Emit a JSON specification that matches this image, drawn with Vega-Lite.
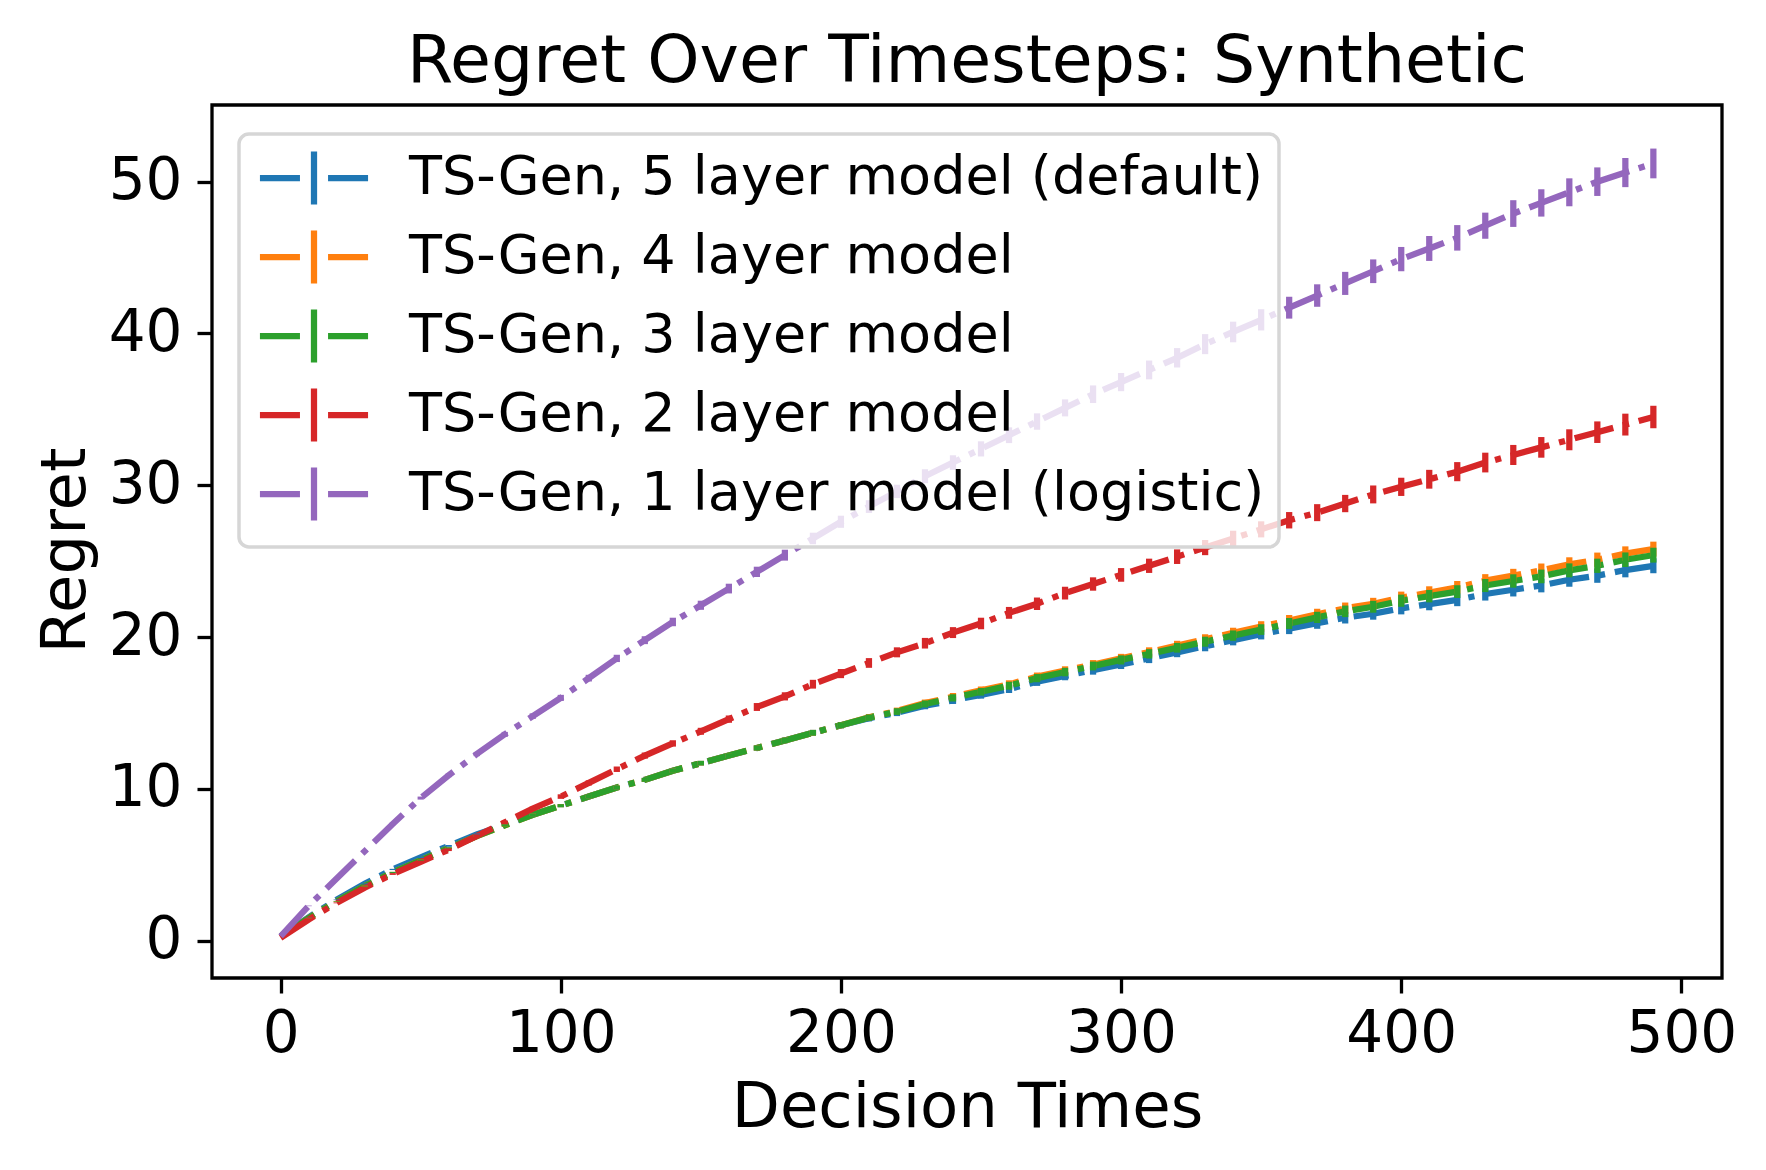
{
"$schema": "https://vega.github.io/schema/vega-lite/v6.json",
"width": 1510, "height": 873,
"autosize": {"type": "none"},
"padding": {"left": 212, "top": 105, "right": 44, "bottom": 192},
"background": "white",
"config": {"font": "DejaVu Sans", "view": {"stroke": "black", "strokeWidth": 3.3}},
"title": {"text": "Regret Over Timesteps: Synthetic", "fontSize": 66.5, "fontWeight": "normal", "color": "black", "anchor": "middle", "frame": "group", "baseline": "alphabetic", "offset": -43},
"data": {"values": [
{"k":"5","t":0,"r":0.3,"e":0},{"k":"5","t":10,"r":1.55,"e":0.01},{"k":"5","t":20,"r":2.7,"e":0.02},{"k":"5","t":30,"r":3.75,"e":0.03},{"k":"5","t":40,"r":4.7,"e":0.04},{"k":"5","t":50,"r":5.5,"e":0.05},{"k":"5","t":60,"r":6.25,"e":0.06},{"k":"5","t":70,"r":7.0,"e":0.07},{"k":"5","t":80,"r":7.65,"e":0.08},{"k":"5","t":90,"r":8.3,"e":0.09},
{"k":"5","t":100,"r":8.9,"e":0.1},{"k":"5","t":110,"r":9.5,"e":0.11},{"k":"5","t":120,"r":10.1,"e":0.12},{"k":"5","t":130,"r":10.6,"e":0.13},{"k":"5","t":140,"r":11.2,"e":0.14},{"k":"5","t":150,"r":11.7,"e":0.15},{"k":"5","t":160,"r":12.2,"e":0.16},{"k":"5","t":170,"r":12.7,"e":0.17},{"k":"5","t":180,"r":13.2,"e":0.18},{"k":"5","t":190,"r":13.7,"e":0.19},
{"k":"5","t":200,"r":14.2,"e":0.2},{"k":"5","t":210,"r":14.66,"e":0.21},{"k":"5","t":220,"r":15.02,"e":0.22},{"k":"5","t":230,"r":15.48,"e":0.23},{"k":"5","t":240,"r":15.84,"e":0.24},{"k":"5","t":250,"r":16.2,"e":0.25},{"k":"5","t":260,"r":16.58,"e":0.26},{"k":"5","t":270,"r":17.06,"e":0.27},{"k":"5","t":280,"r":17.44,"e":0.28},{"k":"5","t":290,"r":17.82,"e":0.29},
{"k":"5","t":300,"r":18.2,"e":0.3},{"k":"5","t":310,"r":18.6,"e":0.31},{"k":"5","t":320,"r":19.0,"e":0.32},{"k":"5","t":330,"r":19.4,"e":0.33},{"k":"5","t":340,"r":19.8,"e":0.34},{"k":"5","t":350,"r":20.2,"e":0.35},{"k":"5","t":360,"r":20.56,"e":0.36},{"k":"5","t":370,"r":20.92,"e":0.37},{"k":"5","t":380,"r":21.28,"e":0.38},{"k":"5","t":390,"r":21.54,"e":0.39},
{"k":"5","t":400,"r":21.9,"e":0.4},{"k":"5","t":410,"r":22.18,"e":0.41},{"k":"5","t":420,"r":22.46,"e":0.42},{"k":"5","t":430,"r":22.84,"e":0.43},{"k":"5","t":440,"r":23.12,"e":0.44},{"k":"5","t":450,"r":23.4,"e":0.45},{"k":"5","t":460,"r":23.78,"e":0.46},{"k":"5","t":470,"r":24.05,"e":0.47},{"k":"5","t":480,"r":24.42,"e":0.48},{"k":"5","t":490,"r":24.7,"e":0.49},
{"k":"4","t":0,"r":0.3,"e":0},{"k":"4","t":10,"r":1.5,"e":0.01},{"k":"4","t":20,"r":2.6,"e":0.02},{"k":"4","t":30,"r":3.6,"e":0.03},{"k":"4","t":40,"r":4.5,"e":0.04},{"k":"4","t":50,"r":5.3,"e":0.05},{"k":"4","t":60,"r":6.1,"e":0.06},{"k":"4","t":70,"r":6.9,"e":0.07},{"k":"4","t":80,"r":7.6,"e":0.08},{"k":"4","t":90,"r":8.3,"e":0.09},
{"k":"4","t":100,"r":8.9,"e":0.1},{"k":"4","t":110,"r":9.5,"e":0.11},{"k":"4","t":120,"r":10.1,"e":0.12},{"k":"4","t":130,"r":10.6,"e":0.13},{"k":"4","t":140,"r":11.2,"e":0.14},{"k":"4","t":150,"r":11.7,"e":0.15},{"k":"4","t":160,"r":12.2,"e":0.16},{"k":"4","t":170,"r":12.7,"e":0.17},{"k":"4","t":180,"r":13.2,"e":0.18},{"k":"4","t":190,"r":13.7,"e":0.19},
{"k":"4","t":200,"r":14.2,"e":0.2},{"k":"4","t":210,"r":14.72,"e":0.21},{"k":"4","t":220,"r":15.14,"e":0.22},{"k":"4","t":230,"r":15.66,"e":0.23},{"k":"4","t":240,"r":16.08,"e":0.24},{"k":"4","t":250,"r":16.5,"e":0.25},{"k":"4","t":260,"r":16.9,"e":0.26},{"k":"4","t":270,"r":17.4,"e":0.27},{"k":"4","t":280,"r":17.8,"e":0.28},{"k":"4","t":290,"r":18.2,"e":0.29},
{"k":"4","t":300,"r":18.6,"e":0.3},{"k":"4","t":310,"r":19.02,"e":0.31},{"k":"4","t":320,"r":19.44,"e":0.32},{"k":"4","t":330,"r":19.86,"e":0.33},{"k":"4","t":340,"r":20.28,"e":0.34},{"k":"4","t":350,"r":20.7,"e":0.35},{"k":"4","t":360,"r":21.1,"e":0.36},{"k":"4","t":370,"r":21.5,"e":0.37},{"k":"4","t":380,"r":21.9,"e":0.38},{"k":"4","t":390,"r":22.2,"e":0.39},
{"k":"4","t":400,"r":22.6,"e":0.4},{"k":"4","t":410,"r":22.94,"e":0.41},{"k":"4","t":420,"r":23.28,"e":0.42},{"k":"4","t":430,"r":23.72,"e":0.43},{"k":"4","t":440,"r":24.06,"e":0.44},{"k":"4","t":450,"r":24.4,"e":0.45},{"k":"4","t":460,"r":24.8,"e":0.46},{"k":"4","t":470,"r":25.1,"e":0.47},{"k":"4","t":480,"r":25.5,"e":0.48},{"k":"4","t":490,"r":25.8,"e":0.49},
{"k":"3","t":0,"r":0.3,"e":0},{"k":"3","t":10,"r":1.5,"e":0.01},{"k":"3","t":20,"r":2.6,"e":0.02},{"k":"3","t":30,"r":3.6,"e":0.03},{"k":"3","t":40,"r":4.5,"e":0.04},{"k":"3","t":50,"r":5.3,"e":0.05},{"k":"3","t":60,"r":6.1,"e":0.06},{"k":"3","t":70,"r":6.9,"e":0.07},{"k":"3","t":80,"r":7.6,"e":0.08},{"k":"3","t":90,"r":8.3,"e":0.09},
{"k":"3","t":100,"r":8.9,"e":0.1},{"k":"3","t":110,"r":9.5,"e":0.11},{"k":"3","t":120,"r":10.1,"e":0.12},{"k":"3","t":130,"r":10.6,"e":0.13},{"k":"3","t":140,"r":11.2,"e":0.14},{"k":"3","t":150,"r":11.7,"e":0.15},{"k":"3","t":160,"r":12.2,"e":0.16},{"k":"3","t":170,"r":12.7,"e":0.17},{"k":"3","t":180,"r":13.2,"e":0.18},{"k":"3","t":190,"r":13.7,"e":0.19},
{"k":"3","t":200,"r":14.2,"e":0.2},{"k":"3","t":210,"r":14.7,"e":0.21},{"k":"3","t":220,"r":15.1,"e":0.22},{"k":"3","t":230,"r":15.6,"e":0.23},{"k":"3","t":240,"r":16.0,"e":0.24},{"k":"3","t":250,"r":16.4,"e":0.25},{"k":"3","t":260,"r":16.8,"e":0.26},{"k":"3","t":270,"r":17.3,"e":0.27},{"k":"3","t":280,"r":17.7,"e":0.28},{"k":"3","t":290,"r":18.1,"e":0.29},
{"k":"3","t":300,"r":18.5,"e":0.3},{"k":"3","t":310,"r":18.9,"e":0.31},{"k":"3","t":320,"r":19.3,"e":0.32},{"k":"3","t":330,"r":19.7,"e":0.33},{"k":"3","t":340,"r":20.1,"e":0.34},{"k":"3","t":350,"r":20.5,"e":0.35},{"k":"3","t":360,"r":20.9,"e":0.36},{"k":"3","t":370,"r":21.3,"e":0.37},{"k":"3","t":380,"r":21.7,"e":0.38},{"k":"3","t":390,"r":22.0,"e":0.39},
{"k":"3","t":400,"r":22.4,"e":0.4},{"k":"3","t":410,"r":22.7,"e":0.41},{"k":"3","t":420,"r":23.0,"e":0.42},{"k":"3","t":430,"r":23.4,"e":0.43},{"k":"3","t":440,"r":23.7,"e":0.44},{"k":"3","t":450,"r":24.0,"e":0.45},{"k":"3","t":460,"r":24.4,"e":0.46},{"k":"3","t":470,"r":24.7,"e":0.47},{"k":"3","t":480,"r":25.1,"e":0.48},{"k":"3","t":490,"r":25.4,"e":0.49},
{"k":"2","t":0,"r":0.2,"e":0},{"k":"2","t":10,"r":1.4,"e":0.02},{"k":"2","t":20,"r":2.5,"e":0.03},{"k":"2","t":30,"r":3.5,"e":0.05},{"k":"2","t":40,"r":4.4,"e":0.06},{"k":"2","t":50,"r":5.2,"e":0.08},{"k":"2","t":60,"r":6.0,"e":0.09},{"k":"2","t":70,"r":6.9,"e":0.11},{"k":"2","t":80,"r":7.8,"e":0.12},{"k":"2","t":90,"r":8.7,"e":0.14},
{"k":"2","t":100,"r":9.5,"e":0.15},{"k":"2","t":110,"r":10.4,"e":0.17},{"k":"2","t":120,"r":11.3,"e":0.18},{"k":"2","t":130,"r":12.2,"e":0.2},{"k":"2","t":140,"r":13.0,"e":0.21},{"k":"2","t":150,"r":13.8,"e":0.23},{"k":"2","t":160,"r":14.6,"e":0.24},{"k":"2","t":170,"r":15.4,"e":0.26},{"k":"2","t":180,"r":16.1,"e":0.27},{"k":"2","t":190,"r":16.9,"e":0.29},
{"k":"2","t":200,"r":17.6,"e":0.3},{"k":"2","t":210,"r":18.3,"e":0.32},{"k":"2","t":220,"r":19.0,"e":0.33},{"k":"2","t":230,"r":19.6,"e":0.35},{"k":"2","t":240,"r":20.3,"e":0.36},{"k":"2","t":250,"r":20.9,"e":0.38},{"k":"2","t":260,"r":21.6,"e":0.39},{"k":"2","t":270,"r":22.2,"e":0.41},{"k":"2","t":280,"r":22.9,"e":0.42},{"k":"2","t":290,"r":23.5,"e":0.44},
{"k":"2","t":300,"r":24.1,"e":0.45},{"k":"2","t":310,"r":24.7,"e":0.47},{"k":"2","t":320,"r":25.3,"e":0.48},{"k":"2","t":330,"r":25.9,"e":0.5},{"k":"2","t":340,"r":26.5,"e":0.51},{"k":"2","t":350,"r":27.1,"e":0.53},{"k":"2","t":360,"r":27.7,"e":0.54},{"k":"2","t":370,"r":28.2,"e":0.56},{"k":"2","t":380,"r":28.8,"e":0.57},{"k":"2","t":390,"r":29.4,"e":0.59},
{"k":"2","t":400,"r":29.9,"e":0.6},{"k":"2","t":410,"r":30.4,"e":0.62},{"k":"2","t":420,"r":30.9,"e":0.63},{"k":"2","t":430,"r":31.5,"e":0.65},{"k":"2","t":440,"r":32.0,"e":0.66},{"k":"2","t":450,"r":32.5,"e":0.68},{"k":"2","t":460,"r":33.0,"e":0.69},{"k":"2","t":470,"r":33.5,"e":0.71},{"k":"2","t":480,"r":34.0,"e":0.72},{"k":"2","t":490,"r":34.5,"e":0.74},
{"k":"1","t":0,"r":0.3,"e":0},{"k":"1","t":10,"r":2.3,"e":0.02},{"k":"1","t":20,"r":4.1,"e":0.04},{"k":"1","t":30,"r":5.9,"e":0.06},{"k":"1","t":40,"r":7.7,"e":0.08},{"k":"1","t":50,"r":9.4,"e":0.1},{"k":"1","t":60,"r":10.9,"e":0.12},{"k":"1","t":70,"r":12.3,"e":0.14},{"k":"1","t":80,"r":13.6,"e":0.16},{"k":"1","t":90,"r":14.8,"e":0.18},
{"k":"1","t":100,"r":16.0,"e":0.2},{"k":"1","t":110,"r":17.3,"e":0.22},{"k":"1","t":120,"r":18.6,"e":0.24},{"k":"1","t":130,"r":19.8,"e":0.26},{"k":"1","t":140,"r":21.0,"e":0.28},{"k":"1","t":150,"r":22.1,"e":0.3},{"k":"1","t":160,"r":23.2,"e":0.32},{"k":"1","t":170,"r":24.3,"e":0.34},{"k":"1","t":180,"r":25.4,"e":0.36},{"k":"1","t":190,"r":26.5,"e":0.38},
{"k":"1","t":200,"r":27.6,"e":0.4},{"k":"1","t":210,"r":28.6,"e":0.42},{"k":"1","t":220,"r":29.6,"e":0.44},{"k":"1","t":230,"r":30.6,"e":0.46},{"k":"1","t":240,"r":31.5,"e":0.48},{"k":"1","t":250,"r":32.4,"e":0.5},{"k":"1","t":260,"r":33.3,"e":0.52},{"k":"1","t":270,"r":34.2,"e":0.54},{"k":"1","t":280,"r":35.1,"e":0.56},{"k":"1","t":290,"r":36.0,"e":0.58},
{"k":"1","t":300,"r":36.8,"e":0.6},{"k":"1","t":310,"r":37.6,"e":0.62},{"k":"1","t":320,"r":38.4,"e":0.64},{"k":"1","t":330,"r":39.3,"e":0.66},{"k":"1","t":340,"r":40.1,"e":0.68},{"k":"1","t":350,"r":40.9,"e":0.7},{"k":"1","t":360,"r":41.7,"e":0.72},{"k":"1","t":370,"r":42.5,"e":0.74},{"k":"1","t":380,"r":43.3,"e":0.76},{"k":"1","t":390,"r":44.1,"e":0.78},
{"k":"1","t":400,"r":44.9,"e":0.8},{"k":"1","t":410,"r":45.6,"e":0.82},{"k":"1","t":420,"r":46.3,"e":0.84},{"k":"1","t":430,"r":47.1,"e":0.86},{"k":"1","t":440,"r":47.9,"e":0.88},{"k":"1","t":450,"r":48.6,"e":0.9},{"k":"1","t":460,"r":49.3,"e":0.92},{"k":"1","t":470,"r":50.0,"e":0.94},{"k":"1","t":480,"r":50.6,"e":0.96},{"k":"1","t":490,"r":51.2,"e":0.98}
]},
"encoding": {
 "x": {"field": "t", "type": "quantitative", "scale": {"domain": [-24.5, 514.5], "nice": false, "zero": false},
  "axis": {"values": [0,100,200,300,400,500], "title": "Decision Times", "titleFontSize": 62.5, "titleFontWeight": "normal", "titleColor": "black", "titleBaseline": "alphabetic", "titleY": 148, "labelFontSize": 58, "labelColor": "black", "labelPadding": 12, "tickSize": 15, "tickWidth": 3.3, "tickColor": "black", "domain": false, "grid": false, "labelFlush": false}},
 "y": {"field": "r", "type": "quantitative", "scale": {"domain": [-2.45, 55.05], "nice": false, "zero": false},
  "axis": {"values": [0,10,20,30,40,50], "title": "Regret", "titleFontSize": 62.5, "titleFontWeight": "normal", "titleColor": "black", "titleBaseline": "alphabetic", "titleAngle": 270, "titleX": -128, "titleY": 445, "labelFontSize": 58, "labelColor": "black", "labelPadding": 15, "tickSize": 15, "tickWidth": 3.3, "tickColor": "black", "domain": false, "grid": false, "labelFlush": false}},
 "color": {"field": "k", "type": "nominal",
  "scale": {"domain": ["5","4","3","2","1"], "range": ["#1f77b4","#ff7f0e","#2ca02c","#d62728","#9467bd"]},
  "legend": {"orient": "none", "legendX": 27, "legendY": 29, "title": null,
   "labelExpr": "'TS-Gen, ' + datum.label + ' layer model' + (datum.label == '5' ? ' (default)' : (datum.label == '1' ? ' (logistic)' : ''))",
   "symbolType": "M-2.04,0H-0.53M0.53,0H2.04M0,-1V1", "symbolSize": 2809, "symbolStrokeWidth": 6.25, "symbolOffset": 31, "symbolDash": [1, 0],
   "labelOffset": 65, "labelFontSize": 54, "labelColor": "black", "labelLimit": 2000,
   "padding": 14, "rowPadding": 1, "fillColor": "rgba(255,255,255,0.8)", "strokeColor": "#d6d6d6", "cornerRadius": 10,
   "encode": {"legend": {"update": {"strokeWidth": {"value": 3.5}}}}}}
},
"layer": [
 {"mark": {"type": "line", "strokeWidth": 6.25, "strokeDash": [40, 10, 6.25, 10], "strokeCap": "butt", "clip": true}},
 {"mark": {"type": "errorbar", "ticks": false, "thickness": 6.25}, "encoding": {"yError": {"field": "e"}}}
]
}
